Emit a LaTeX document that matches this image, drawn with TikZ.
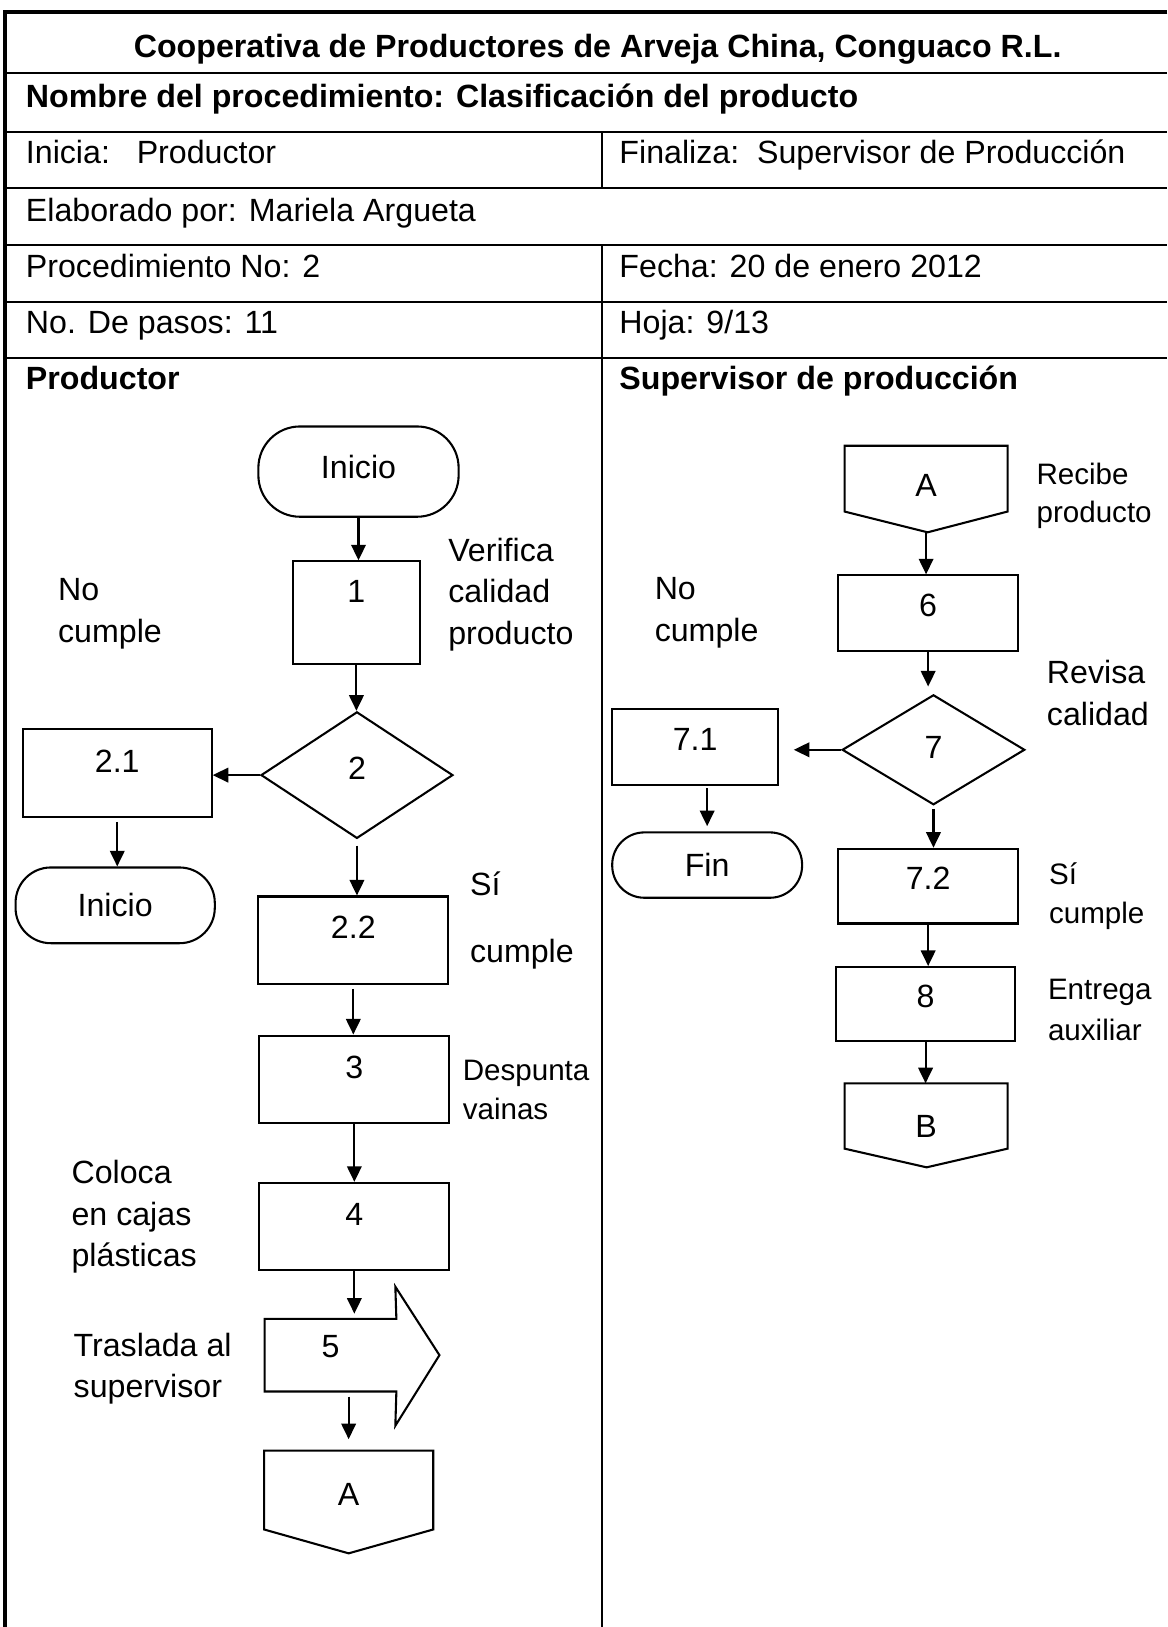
\documentclass[tikz,border=0pt]{standalone}
\usepackage{fontspec}
\setmainfont{Liberation Sans}
\usetikzlibrary{arrows.meta,shapes.geometric}

\begin{document}
\begin{tikzpicture}[x=1pt,y=-1pt,line width=2pt,
    every node/.style={font=\fontsize{31pt}{40pt}\selectfont},
    negrita/.style={font=\fontsize{31pt}{40pt}\selectfont\bfseries},
    chica/.style={font=\fontsize{28.5pt}{38pt}\selectfont},
    fila/.style={anchor=base west,inner sep=0pt},
    nota/.style={anchor=base west,align=left,inner sep=0pt},
    caja/.style={draw,rectangle,inner sep=0pt,text height=22pt,text depth=0pt},
    rombo/.style={draw,diamond,inner sep=0pt,text height=22pt,text depth=0pt},
    terminal/.style={draw,rectangle,rounded corners=34pt,inner sep=0pt,text height=22pt,text depth=0pt},
    conector/.style={rectangle,inner sep=0pt,text height=22pt,text depth=0pt}]
  \useasboundingbox (0,0) rectangle (1125,1568);
  \draw[line width=3.5pt] (1125,11.3) -- (5,11.3) -- (5,1568);
  \draw (5,70.7) -- (1125,70.7) (5,127) -- (1125,127) (5,181.5) -- (1125,181.5)
        (5,236.2) -- (1125,236.2) (5,290.8) -- (1125,290.8) (5,345.4) -- (1125,345.4)
        (580.3,127) -- (580.3,181.5) (580.3,236.2) -- (580.3,1568);

  \node[negrita,anchor=base,inner sep=0pt] (titulo) at (576,55) {Cooperativa de Productores de Arveja China, Conguaco R.L.};
  \node[fila,negrita] (nombre) at (24,104) {Nombre del procedimiento: Clasificación del producto};
  \node[fila] (inicia) at (24,158) {Inicia:\ \ \ Productor};
  \node[fila] (finaliza) at (596,158) {Finaliza:\ \ Supervisor de Producción};
  \node[fila] (elaborado) at (24,213) {Elaborado por: Mariela Argueta};
  \node[fila] (procno) at (24,267) {Procedimiento No: 2};
  \node[fila] (fecha) at (596,267) {Fecha: 20 de enero 2012};
  \node[fila] (pasos) at (24,321) {No. De pasos: 11};
  \node[fila] (hoja) at (596,321) {Hoja: 9/13};
  \node[fila,negrita] (productor) at (24,375) {Productor};
  \node[fila,negrita] (supervisor) at (596,375) {Supervisor de producción};

  \node[terminal,rounded corners=40pt,minimum width=193,minimum height=87,text depth=9pt] (ini) at (345.5,454.5) {Inicio};
  \node[caja,minimum width=123,minimum height=99,text depth=41pt] (p1) at (343.5,590.5) {1};
  \node[rombo,minimum width=185,minimum height=122,text depth=14pt] (p2) at (344,747) {2};
  \node[caja,minimum width=182,minimum height=84,text depth=24pt] (p21) at (113,745) {2.1};
  \node[terminal,minimum width=192,minimum height=73] (ini2) at (111,872.5) {Inicio};
  \node[caja,minimum width=183,minimum height=84,text depth=26pt] (p22) at (340.5,906) {2.2};
  \node[caja,minimum width=183,minimum height=84,text depth=24pt] (p3) at (341.5,1040) {3};
  \node[caja,minimum width=183,minimum height=84,text depth=24pt] (p4) at (341.5,1182) {4};
  \node[conector,minimum width=125,minimum height=68,text depth=17pt] (p5) at (318.5,1306) {5};
  \draw (p5.north west) -- (p5.north east) -- (381,1240) -- (423.5,1306) -- (381,1374)
        -- (p5.south east) -- (p5.south west) -- cycle;
  \node[conector,minimum width=161,minimum height=74,text height=30pt] (conA) at (336,1436) {A};
  \draw (conA.north west) -- (conA.north east) -- (conA.south east) -- (336,1497)
        -- (conA.south west) -- cycle;

  \node[conector,minimum width=155,minimum height=61.4,text height=35pt] (conA2) at (892.5,461.3) {A};
  \draw (conA2.north west) -- (conA2.north east) -- (conA2.south east) -- (894,513)
        -- (conA2.south west) -- cycle;
  \node[caja,minimum width=173,minimum height=73,text depth=16pt] (p6) at (894.5,591) {6};
  \node[rombo,minimum width=176,minimum height=106,text depth=6pt] (p7) at (899.6,722.6) {7};
  \node[caja,minimum width=160,minimum height=73,text depth=16pt] (p71) at (670,720) {7.1};
  \node[terminal,rounded corners=31pt,minimum width=183,minimum height=63] (fin) at (681.5,833.7) {Fin};
  \node[caja,minimum width=173,minimum height=72,text depth=16pt] (p72) at (894.5,854) {7.2};
  \node[caja,minimum width=172,minimum height=71,text depth=15pt] (p8) at (892,967.5) {8};
  \node[conector,minimum width=155,minimum height=61,text height=41pt] (conB) at (892.5,1075.5) {B};
  \draw (conB.north west) -- (conB.north east) -- (conB.south east) -- (893,1125)
        -- (conB.south west) -- cycle;

  \node[nota] (n1) at (431,621) {Verifica\\calidad\\producto};
  \node[nota] (n2) at (55,619) {No\\cumple};
  \node[nota] (n3) at (452,928) {Sí\\[25pt]cumple};
  \node[nota,chica] (n4) at (445,1079) {Despunta\\vainas};
  \node[nota] (n5) at (68,1221) {Coloca\\en cajas\\plásticas};
  \node[nota] (n6) at (70,1347) {Traslada al\\supervisor};
  \node[nota,chica] (n7) at (998,504) {Recibe\\[-1pt]producto};
  \node[nota] (n8) at (630,618) {No\\cumple};
  \node[nota] (n9) at (1008,699) {Revisa\\calidad};
  \node[nota,chica] (n10) at (1010,890) {Sí\\cumple};
  \node[nota,chica] (n11) at (1009,1003) {Entrega\\[2pt]auxiliar};

  \begin{scope}[-{Triangle[length=15pt,width=14pt]}]
    \draw (ini.south) -- (ini.south |- p1.north);
    \draw (p1.south) -- (p1.south |- p2.north);
    \draw (p2.west) -- (p2.west -| p21.east);
    \draw[shorten <=4pt] (p21.south) -- (p21.south |- ini2.north);
    \draw[shorten <=6pt] (p2.south) -- (p2.south |- p22.north);
    \draw[shorten <=4pt] (p22.south) -- (p22.south |- p3.north);
    \draw (p3.south) -- (p3.south |- p4.north);
    \draw[shorten >=5pt] (p4.south) -- (p4.south |- p5.north);
    \draw[shorten <=5pt,shorten >=11pt] (conA.north |- p5.south) -- (conA.north);
    \draw[shorten <=21pt] (conA2.south) -- (conA2.south |- p6.north);
    \draw[shorten >=7pt] (p6.south) -- (p6.south |- p7.north);
    \draw[shorten >=14pt] (p7.west) -- (p7.west -| p71.east);
    \draw[shorten <=2pt,shorten >=5pt] (fin.north |- p71.south) -- (fin.north);
    \draw[shorten <=3pt] (p7.south) -- (p7.south |- p72.north);
    \draw (p72.south) -- (p72.south |- p8.north);
    \draw (p8.south) -- (p8.south |- conB.north);
  \end{scope}
\end{tikzpicture}
\end{document}
